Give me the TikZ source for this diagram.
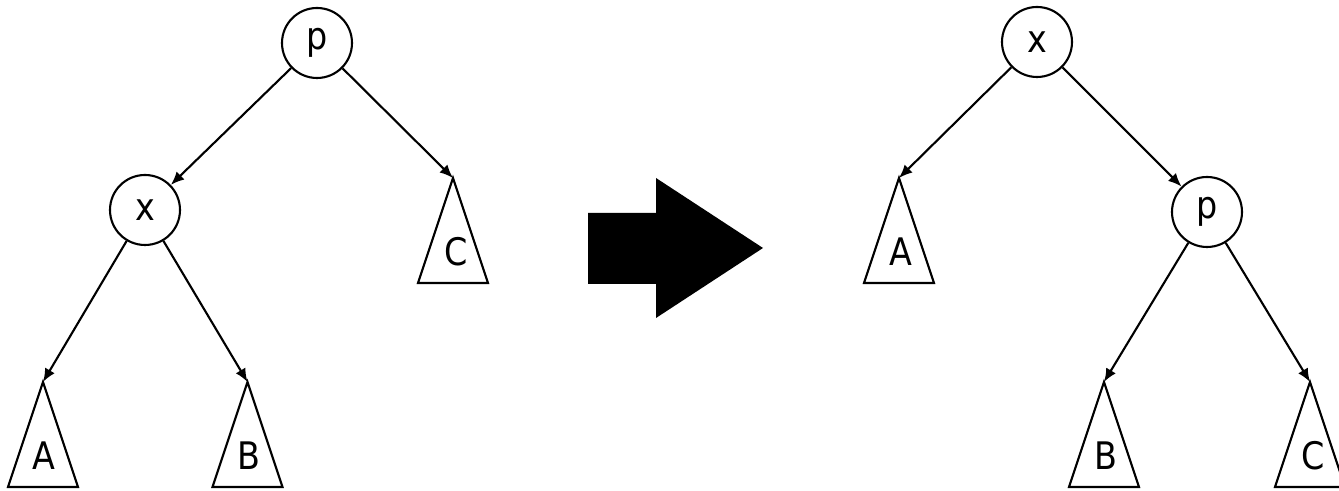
\documentclass[tikz,border=0pt]{standalone}
\usepackage{fontspec}
\setmainfont{DejaVu Sans}
\newfontfamily\treefont[FakeStretch=0.88]{DejaVu Sans}
\usetikzlibrary{arrows.meta}

\begin{document}
\begin{tikzpicture}[>={Latex[length=3.8pt,width=3.2pt]}, line width=0.6pt,
    vertex/.style={draw, circle, minimum size=0.7cm, inner sep=0pt, font=\treefont\fontsize{10.8}{13}\selectfont},
    leaf/.style={inner sep=0pt, font=\treefont\fontsize{10.8}{13}\selectfont}]
    \useasboundingbox (0,0) rectangle (13.39,4.91);

    % Left tree
    \node[vertex] (p1) at (3.17,4.48) {p};
    \node[vertex] (x1) at (1.45,2.81) {x};

    \coordinate (A1) at (0.43,1.09);
    \coordinate (B1) at (2.475,1.09);
    \coordinate (C1) at (4.53,3.13);
    \draw (A1) -- ++(-0.35,-1.05) -- ++(0.7,0) -- cycle;
    \draw (B1) -- ++(-0.35,-1.05) -- ++(0.7,0) -- cycle;
    \draw (C1) -- ++(-0.35,-1.05) -- ++(0.7,0) -- cycle;
    \node[leaf] (labA1) at (0.44,0.35) {A};
    \node[leaf] (labB1) at (2.49,0.35) {B};
    \node[leaf] (labC1) at (4.56,2.39) {C};

    \draw[->] (p1) -- (x1);
    \draw[->] (p1) -- (C1);
    \draw[->] (x1) -- (A1);
    \draw[->] (x1) -- (B1);

    % Rotation arrow
    \fill (5.88,2.07) -- (6.56,2.07) -- (6.56,1.73) -- (7.63,2.43) -- (6.56,3.13) -- (6.56,2.78) -- (5.88,2.78) -- cycle;

    % Right tree
    \node[vertex] (x2) at (10.37,4.49) {x};
    \node[vertex] (p2) at (12.07,2.79) {p};

    \coordinate (A2) at (8.99,3.13);
    \coordinate (B2) at (11.04,1.09);
    \coordinate (C2) at (13.10,1.09);
    \draw (A2) -- ++(-0.35,-1.05) -- ++(0.7,0) -- cycle;
    \draw (B2) -- ++(-0.35,-1.05) -- ++(0.7,0) -- cycle;
    \draw (C2) -- ++(-0.35,-1.05) -- ++(0.7,0) -- cycle;
    \node[leaf] (labA2) at (9.01,2.39) {A};
    \node[leaf] (labB2) at (11.06,0.35) {B};
    \node[leaf] (labC2) at (13.13,0.35) {C};

    \draw[->] (x2) -- (A2);
    \draw[->] (x2) -- (p2);
    \draw[->] (p2) -- (B2);
    \draw[->] (p2) -- (C2);
\end{tikzpicture}
\end{document}
